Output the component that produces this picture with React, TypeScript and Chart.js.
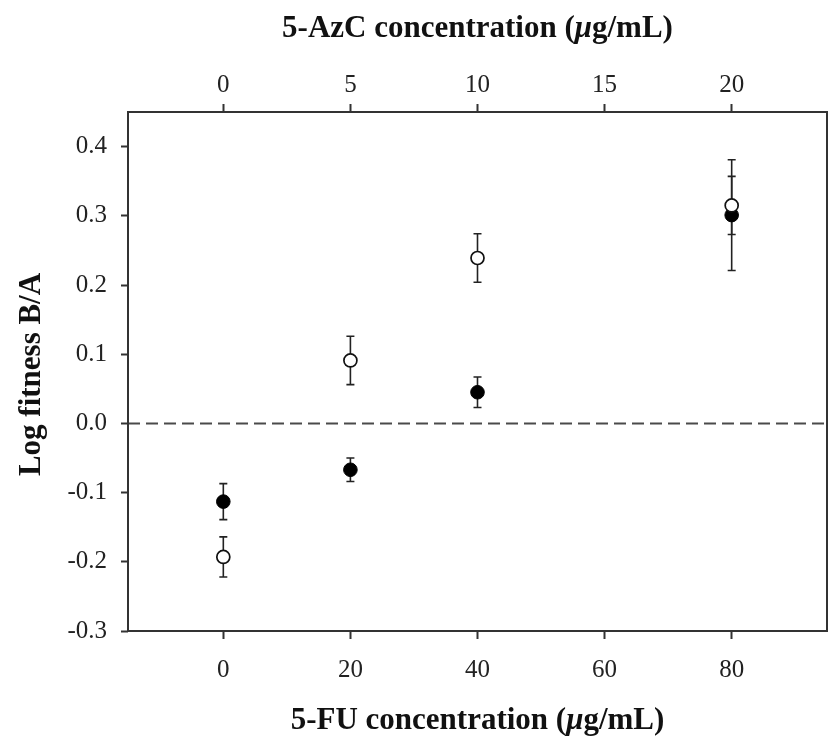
import React, { useEffect, useRef } from 'react';
import { Chart, registerables } from 'chart.js';

Chart.register(...registerables);

// ---- data ----
const fuConcentrations = [0, 20, 40, 80];
const openMeans = [-0.193, 0.091, 0.239, 0.315];
const openErrors = [0.029, 0.035, 0.035, 0.042];
const filledMeans = [-0.113, -0.067, 0.045, 0.301];
const filledErrors = [0.026, 0.017, 0.022, 0.08];

const yTickValues = [-0.3, -0.2, -0.1, 0, 0.1, 0.2, 0.3, 0.4];
const fuTickValues = [0, 20, 40, 60, 80];
const azcTickValues = [0, 5, 10, 15, 20];
const yRange = [-0.3, 0.45];
const fuRange = [-15, 95];
const azcRange = [-3.75, 23.75];

const yTitle = 'Log fitness B/A';
const bottomTitle = ['5-FU concentration (', 'μ', 'g/mL)'];
const topTitle = ['5-AzC concentration (', 'μ', 'g/mL)'];

const SERIF = '"Liberation Serif", "Times New Roman", serif';
const INK = '#222';
const FRAME = '#333';

function drawMixedTitle(ctx: CanvasRenderingContext2D, parts: string[], cx: number, baseline: number, size: number) {
  const fonts = [`bold ${size}px ${SERIF}`, `italic bold ${size}px ${SERIF}`, `bold ${size}px ${SERIF}`];
  let total = 0;
  const widths: number[] = [];
  parts.forEach((p, i) => {
    ctx.font = fonts[i];
    const w = ctx.measureText(p).width;
    widths.push(w);
    total += w;
  });
  let x = cx - total / 2;
  ctx.textAlign = 'left';
  ctx.textBaseline = 'alphabetic';
  ctx.fillStyle = '#111';
  parts.forEach((p, i) => {
    ctx.font = fonts[i];
    ctx.fillText(p, x, baseline);
    x += widths[i];
  });
}

const decorPlugin = {
  id: 'decor',
  beforeDatasetsDraw(chart: any) {
    const ctx = chart.ctx as CanvasRenderingContext2D;
    const { left, right } = chart.chartArea;
    const ys = chart.scales.y;
    // dashed zero line
    ctx.save();
    ctx.strokeStyle = '#4a4a4a';
    ctx.lineWidth = 2;
    ctx.setLineDash([12, 6]);
    const y0 = ys.getPixelForValue(0);
    ctx.beginPath();
    ctx.moveTo(left, y0);
    ctx.lineTo(right, y0);
    ctx.stroke();
    ctx.restore();
    // error bars
    ctx.save();
    ctx.strokeStyle = '#222';
    ctx.lineWidth = 1.6;
    chart.data.datasets.forEach((ds: any, di: number) => {
      const meta = chart.getDatasetMeta(di);
      const errs: number[] = ds.errors;
      meta.data.forEach((pt: any, i: number) => {
        const v = ds.data[i].y;
        const e = errs[i];
        const yTop = ys.getPixelForValue(v + e);
        const yBot = ys.getPixelForValue(v - e);
        const x = pt.x;
        ctx.beginPath();
        ctx.moveTo(x, yTop);
        ctx.lineTo(x, yBot);
        ctx.moveTo(x - 4, yTop);
        ctx.lineTo(x + 4, yTop);
        ctx.moveTo(x - 4, yBot);
        ctx.lineTo(x + 4, yBot);
        ctx.stroke();
      });
    });
    ctx.restore();
  },
  afterDraw(chart: any) {
    const ctx = chart.ctx as CanvasRenderingContext2D;
    const { left, right, top, bottom } = chart.chartArea;
    ctx.save();
    ctx.strokeStyle = FRAME;
    ctx.lineWidth = 2;
    ctx.strokeRect(left, top, right - left, bottom - top);
    const cx = (left + right) / 2;
    drawMixedTitle(ctx, topTitle, cx, 37, 31);
    drawMixedTitle(ctx, bottomTitle, cx, 729, 31);
    // y title
    ctx.translate(40, (top + bottom) / 2 + 3);
    ctx.rotate(-Math.PI / 2);
    ctx.font = `bold 31px ${SERIF}`;
    ctx.fillStyle = '#111';
    ctx.textAlign = 'center';
    ctx.textBaseline = 'alphabetic';
    ctx.fillText(yTitle, 0, 0);
    ctx.restore();
  },
};

function axisCommon(padding: number) {
  return {
    grid: {
      display: true,
      drawOnChartArea: false,
      drawTicks: true,
      tickLength: 8,
      tickWidth: 2,
      tickColor: FRAME,
    },
    border: { display: false },
    ticks: {
      font: { family: SERIF, size: 25 },
      color: INK,
      padding,
      maxRotation: 0,
      autoSkip: false,
    },
  };
}

export default function App() {
  const ref = useRef<HTMLCanvasElement | null>(null);
  useEffect(() => {
    if (!ref.current) return;
    const chart = new Chart(ref.current, {
      type: 'scatter',
      data: {
        datasets: [
          {
            label: 'Open circles',
            data: fuConcentrations.map((x, i) => ({ x, y: openMeans[i] })),
            errors: openErrors,
            pointRadius: 6.5,
            pointBackgroundColor: '#fff',
            pointBorderColor: '#111',
            pointBorderWidth: 1.7,
            xAxisID: 'x',
            yAxisID: 'y',
          } as any,
          {
            label: 'Filled circles',
            data: fuConcentrations.map((x, i) => ({ x, y: filledMeans[i] })),
            errors: filledErrors,
            pointRadius: 6.8,
            pointBackgroundColor: '#000',
            pointBorderColor: '#000',
            pointBorderWidth: 1,
            xAxisID: 'x',
            yAxisID: 'y',
          } as any,
        ],
      },
      options: {
        animation: false,
        responsive: false,
        devicePixelRatio: 1,
        layout: { padding: { left: 0, right: 10, top: 0, bottom: 0 } },
        plugins: { legend: { display: false }, tooltip: { enabled: false }, title: { display: false } },
        scales: {
          x: {
            type: 'linear',
            position: 'bottom',
            min: fuRange[0],
            max: fuRange[1],
            afterBuildTicks: (s: any) => { s.ticks = fuTickValues.map((v) => ({ value: v })); },
            afterFit: (s: any) => { s.height = 118; },
            ...axisCommon(16),
            ticks: { ...axisCommon(16).ticks, callback: (v: any) => String(v) },
          },
          x2: {
            type: 'linear',
            position: 'top',
            min: azcRange[0],
            max: azcRange[1],
            afterBuildTicks: (s: any) => { s.ticks = azcTickValues.map((v) => ({ value: v })); },
            afterFit: (s: any) => { s.height = 112; },
            ...axisCommon(4),
            ticks: { ...axisCommon(4).ticks, callback: (v: any) => String(v) },
          },
          y: {
            type: 'linear',
            position: 'left',
            min: yRange[0],
            max: yRange[1],
            afterBuildTicks: (s: any) => { s.ticks = yTickValues.map((v) => ({ value: v })); },
            afterFit: (s: any) => { s.width = 128; },
            ...axisCommon(14),
            grid: { ...axisCommon(14).grid, tickLength: 7 },
            ticks: { ...axisCommon(14).ticks, callback: (v: any) => Number(v).toFixed(1) },
          },
        } as any,
      },
      plugins: [decorPlugin],
    });
    return () => chart.destroy();
  }, []);
  return (
    <div style={{ position: 'absolute', left: 0, top: 0, width: 837, height: 749, background: '#fff' }}>
      <canvas ref={ref} width={837} height={749} style={{ display: 'block' }} />
    </div>
  );
}
